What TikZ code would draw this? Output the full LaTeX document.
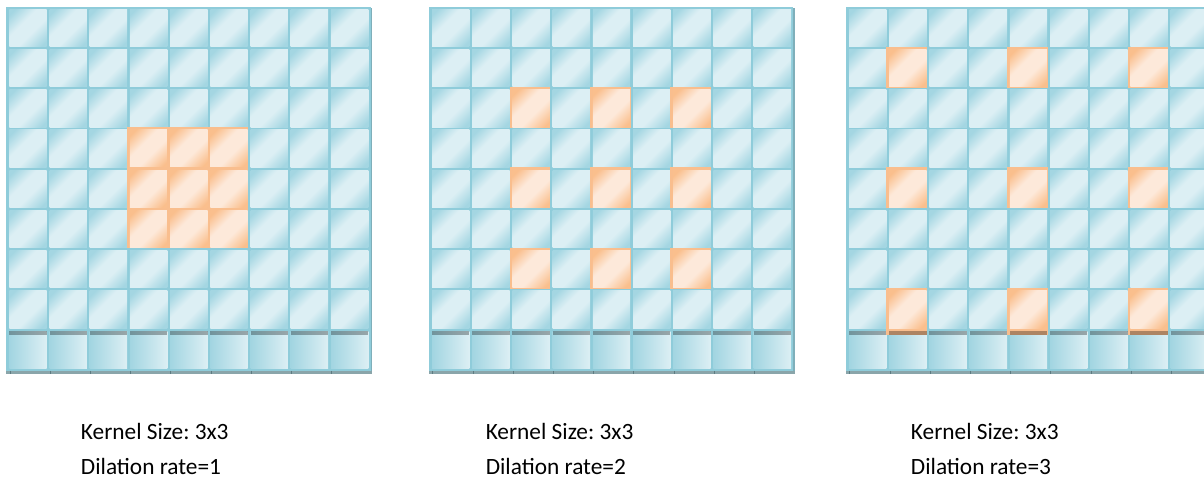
\documentclass[tikz,border=0pt]{standalone}
\usepackage{fontspec}
\setmainfont{Carlito}
\definecolor{bgblue}{HTML}{8FCCDA}
\definecolor{bdark}{HTML}{A4D6E2}
\definecolor{blight}{HTML}{DCEFF4}
\definecolor{obg}{HTML}{F9BE8E}
\definecolor{odark}{HTML}{FABF8D}
\definecolor{olight}{HTML}{FDE9DA}
\definecolor{shadowgray}{HTML}{8AA5AA}
\definecolor{rshadow}{HTML}{7FAFBA}
\definecolor{tickgray}{HTML}{5E7C82}
\pgfdeclarehorizontalshading{bglass}{100bp}{color(0bp)=(bdark); color(20bp)=(bdark); color(40bp)=(blight); color(58bp)=(blight); color(80bp)=(bdark); color(100bp)=(bdark)}
\pgfdeclarehorizontalshading{oglass}{100bp}{color(0bp)=(odark); color(20bp)=(odark); color(40bp)=(olight); color(58bp)=(olight); color(80bp)=(odark); color(100bp)=(odark)}
\tikzset{
  bcell/.style={shading=bglass, shading angle=-45},
  ocell/.style={shading=oglass, shading angle=-45},
  lowcell/.style={left color=bdark!90!bgblue, right color=blight},
  stripseg/.style={fill=black, fill opacity=0.3},
  lbl/.style={anchor=base west, inner sep=0pt, font=\fontsize{17.5}{21}\selectfont, text=black}
}
\begin{document}
\frenchspacing
\begin{tikzpicture}[x=0.75pt,y=-0.75pt]
\useasboundingbox (0,0) rectangle (1204,479);
\clip (0,0) rectangle (1204,479);
\foreach \g/\ox/\tx/\a/\b/\c in {1/0/80.7/4/5/6, 2/422.7/485.5/3/5/7, 3/839.7/910.7/2/5/8} {
  % shadows and background
  \fill[shadowgray] (\ox+6,370.7) rectangle (\ox+372,374.3);
  \fill[rshadow] (\ox+370.7,8) rectangle (\ox+372,370.7);
  \fill[bgblue] (\ox+6,7) rectangle (\ox+370.7,370.7);
  % blue cells rows 1-8
  \foreach \i in {1,...,9} {
    \pgfmathsetmacro\cx{\ox+9.3+(\i-1)*40.2}
    \foreach \j in {1,...,8} {
      \pgfmathsetmacro\cy{9.3+(\j-1)*40.2}
      \shade[bcell] (\cx,\cy) rectangle +(37.4,37.4);
    }
    % bottom row
    \shade[lowcell] (\cx,331.2) rectangle +(37.4,37.4);
    % tick mark in bottom shadow
    \draw[tickgray, line width=0.75pt] ({\cx+0.8},370.9) -- ({\cx+0.8},374.3);
  }
  % orange cells
  \foreach \i in {\a,\b,\c} {
    \pgfmathsetmacro\cx{\ox+9.3+(\i-1)*40.2}
    \foreach \j in {\a,\b,\c} {
      \pgfmathsetmacro\cy{9.3+(\j-1)*40.2}
      \pgfmathsetmacro\ob{\j==8 ? 334.6 : \cy+38.0}
      \fill[obg] ({\cx-2.8},{\cy-2.8}) rectangle ({\cx+38.0},\ob);
      \shade[ocell] (\cx,\cy) rectangle +(37.4,37.4);
    }
  }
  % dark strip at top of last row
  \foreach \i in {1,...,9} {
    \pgfmathsetmacro\cx{\ox+9.3+(\i-1)*40.2}
    \fill[stripseg] (\cx,331) rectangle +(37.4,3.6);
  }
  % labels
  \node[lbl] (k\g) at (\tx,439.4) {Kernel Size: 3x3};
  \node[lbl] (d\g) at (\tx,474.3) {Dilation rate=\g};
}
\end{tikzpicture}
\end{document}
